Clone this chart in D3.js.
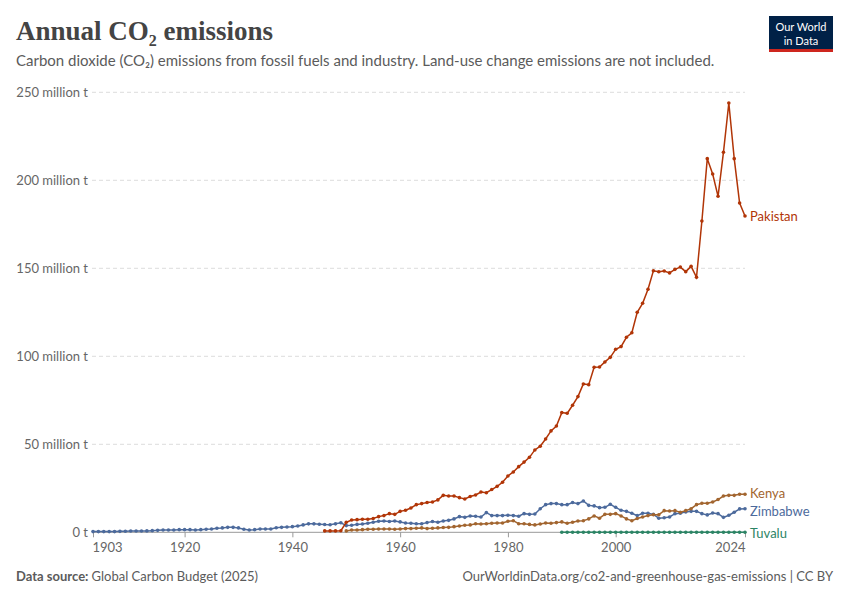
<!DOCTYPE html>
<html>
<head>
<meta charset="utf-8">
<script src="https://cdn.jsdelivr.net/npm/d3@7"></script>
<style>
  body { margin: 0; background: #fff; }
  svg { font-family: Lato, "Noto Sans", sans-serif; }
</style>
</head>
<body>
<div id="chart"></div>
<script>
var width = 850;
var height = 600;

// Data (million tonnes CO2)
var zimbabweStart = 1903;
var zimbabwe = [
  0.4, 0.4, 0.4, 0.4, 0.4, 0.55, 0.6,
  0.75, 0.75, 0.75, 0.8, 0.95, 1.1, 1.3, 1.3, 1.3, 1.5,
  1.5, 1.5, 1.3, 1.5, 1.7, 1.9, 2.3, 2.5, 2.8, 2.8,
  2.5, 1.7, 1.3, 1.5, 1.9, 1.9, 1.9, 2.6, 2.8, 3.0,
  3.2, 3.6, 4.2, 4.8, 4.8, 4.6, 4.4, 4.3, 4.8, 5.4,
  3.8, 4.0, 4.5, 4.7, 5.1, 5.7, 6.3, 6.4, 6.1, 6.4,
  5.9, 5.3, 5.1, 4.9, 4.9, 5.5, 6.1, 5.7, 6.4, 6.8,
  7.6, 8.9, 8.5, 9.3, 9.1, 8.7, 11.2, 9.5, 9.5, 9.5,
  9.7, 9.5, 9.1, 10.6, 10.2, 10.4, 13.4, 15.7, 16.3, 16.3,
  15.7, 15.7, 16.9, 16.3, 17.8, 15.3, 15.0, 14.0, 14.2, 15.9,
  14.2, 12.5, 11.9, 10.8, 9.5, 10.8, 10.8, 10.2, 8.0, 8.3,
  8.7, 10.6, 10.8, 11.6, 11.9, 11.9, 10.6, 9.9, 11.0, 10.6,
  8.5, 9.7, 11.4, 13.3, 13.4
];

var pakistanStart = 1946;
var pakistan = [
  0.8, 0.8, 0.8, 0.9,
  5.7, 7.0, 7.2, 7.4, 7.4, 7.8, 8.9, 9.5, 10.6, 10.2,
  11.9, 12.5, 13.8, 15.7, 16.3, 16.9, 17.2, 18.4, 21.0, 20.6,
  20.6, 19.7, 18.9, 20.3, 21.2, 22.9, 22.5, 24.3, 26.1, 28.4,
  32.0, 34.3, 37.3, 39.9, 42.6, 46.8, 48.9, 53.0, 57.6, 60.4,
  68.0, 67.6, 72.2, 77.1, 84.3, 83.9, 93.8, 93.9, 96.8, 99.4,
  104.0, 105.5, 110.8, 113.4, 125.0, 130.1, 138.1, 148.6, 148.0, 148.5,
  147.4, 149.4, 150.7, 148.1, 151.1, 144.9, 176.9, 212.3, 203.6, 190.9,
  215.9, 243.9, 212.3, 187.1, 179.7
];

var kenyaStart = 1950;
var kenya = [
  0.8, 1.3, 1.3, 1.5, 1.7, 1.7, 1.9, 1.9, 1.9, 1.7,
  1.9, 2.1, 2.1, 2.3, 2.5, 2.1, 2.3, 2.5, 2.7, 2.8,
  3.2, 3.6, 4.0, 4.2, 4.9, 4.7, 4.9, 5.1, 5.3, 5.3,
  6.3, 6.6, 4.9, 4.9, 4.5, 4.2, 4.7, 5.3, 5.1, 5.5,
  5.9, 5.1, 5.7, 6.4, 6.6, 7.6, 9.3, 8.0, 10.2, 10.2,
  10.6, 9.3, 7.6, 6.6, 7.8, 8.7, 9.5, 10.0, 10.0, 12.3,
  12.1, 12.3, 11.4, 12.3, 13.4, 15.7, 16.5, 16.5, 17.2, 18.6,
  20.6, 21.0, 21.0, 21.6, 21.6
];

var tuvaluStart = 1990;
var tuvalu = [
  0.01, 0.01, 0.01, 0.01, 0.01, 0.01, 0.01, 0.01, 0.01, 0.01,
  0.01, 0.01, 0.01, 0.01, 0.01, 0.01, 0.01, 0.01, 0.01, 0.01,
  0.01, 0.01, 0.01, 0.01, 0.01, 0.01, 0.01, 0.01, 0.01, 0.01,
  0.01, 0.01, 0.01, 0.01, 0.01
];

var xTicks = [1903, 1920, 1940, 1960, 1980, 2000, 2024];
var yTicks = [0, 50, 100, 150, 200, 250];

function toPoints(start, values) {
  return values.map(function (v, i) { return { year: start + i, value: v }; });
}

var series = [
  { name: "Pakistan", color: "#B13507", points: toPoints(pakistanStart, pakistan) },
  { name: "Kenya", color: "#A2652F", points: toPoints(kenyaStart, kenya) },
  { name: "Zimbabwe", color: "#4C6A9C", points: toPoints(zimbabweStart, zimbabwe) },
  { name: "Tuvalu", color: "#2C8465", points: toPoints(tuvaluStart, tuvalu) }
];

var xScale = d3.scaleLinear().domain([1903, 2024]).range([93, 745]);
var yScale = d3.scaleLinear().domain([0, 250]).range([532.3, 92.3]);

var svg = d3.select("#chart")
  .append("svg")
  .attr("width", width)
  .attr("height", height);

// Title
var title = svg.append("text")
  .attr("x", 16)
  .attr("y", 40)
  .style("font-family", "'Liberation Serif', 'DejaVu Serif', serif")
  .attr("font-size", "27px")
  .attr("font-weight", "bold")
  .attr("fill", "#444");
title.append("tspan").text("Annual CO");
title.append("tspan").attr("font-size", "16px").attr("dy", 6).text("2");
title.append("tspan").attr("dy", -6).text(" emissions");

svg.append("text")
  .attr("x", 16)
  .attr("y", 66)
  .attr("font-size", "15px")
  .attr("fill", "#5b5b5b")
  .text("Carbon dioxide (CO\u2082) emissions from fossil fuels and industry. Land-use change emissions are not included.");

// Logo
var logo = svg.append("g").attr("transform", "translate(769,16)");
logo.append("rect").attr("width", 64).attr("height", 36).attr("fill", "#002147");
logo.append("rect").attr("y", 33).attr("width", 64).attr("height", 3).attr("fill", "#CE261E");
logo.append("text").attr("x", 32).attr("y", 15).attr("text-anchor", "middle")
  .attr("font-size", "11px").attr("fill", "#fff").text("Our World");
logo.append("text").attr("x", 32).attr("y", 29).attr("text-anchor", "middle")
  .attr("font-size", "11px").attr("fill", "#fff").text("in Data");

// Gridlines and y labels
svg.append("g")
  .selectAll("line")
  .data(yTicks.filter(function (d) { return d > 0; }))
  .enter()
  .append("line")
  .attr("x1", 92)
  .attr("x2", 745)
  .attr("y1", function (d) { return yScale(d); })
  .attr("y2", function (d) { return yScale(d); })
  .attr("stroke", "#dddddd")
  .attr("stroke-dasharray", "4,3");

svg.append("g")
  .selectAll("text")
  .data(yTicks)
  .enter()
  .append("text")
  .attr("x", 88)
  .attr("y", function (d) { return yScale(d); })
  .attr("dy", "0.35em")
  .attr("text-anchor", "end")
  .attr("font-size", "13px")
  .attr("fill", "#666")
  .text(function (d) { return d === 0 ? "0 t" : d + " million t"; });

// X axis
var xAxis = d3.axisBottom(xScale)
  .tickValues(xTicks)
  .tickFormat(d3.format("d"))
  .tickSize(5)
  .tickSizeOuter(0);

var xAxisG = svg.append("g")
  .attr("transform", "translate(0," + yScale(0) + ")")
  .call(xAxis);
xAxisG.select(".domain").attr("stroke", "#999").attr("d", "M92,0H745");
xAxisG.selectAll(".tick line").attr("stroke", "#999");
xAxisG.selectAll(".tick text")
  .style("font-family", "Lato, sans-serif")
  .attr("font-size", "13px")
  .attr("fill", "#666")
  .attr("dy", "0.9em")
  .attr("text-anchor", function (d) {
    if (d === 1903) return "start";
    if (d === 2024) return "end";
    return "middle";
  })
  .attr("dx", function (d) { return d === 1903 ? -1 : 0; });

// Lines
var line = d3.line()
  .x(function (d) { return xScale(d.year); })
  .y(function (d) { return yScale(d.value); });

var seriesG = svg.append("g")
  .selectAll("g")
  .data(series.slice().reverse())
  .enter()
  .append("g");

seriesG.append("path")
  .attr("d", function (d) { return line(d.points); })
  .attr("fill", "none")
  .attr("stroke", function (d) { return d.color; })
  .attr("stroke-width", 1.5);

seriesG.selectAll("circle")
  .data(function (d) { return d.points.map(function (p) { return { p: p, color: d.color }; }); })
  .enter()
  .append("circle")
  .attr("cx", function (d) { return xScale(d.p.year); })
  .attr("cy", function (d) { return yScale(d.p.value); })
  .attr("r", 1.8)
  .attr("fill", function (d) { return d.color; });

// End labels
var labelY = { Pakistan: 216, Kenya: 493, Zimbabwe: 511, Tuvalu: 533 };
svg.append("g")
  .selectAll("text")
  .data(series)
  .enter()
  .append("text")
  .attr("x", 750)
  .attr("y", function (d) { return labelY[d.name]; })
  .attr("dy", "0.35em")
  .attr("font-size", "13px")
  .attr("fill", function (d) { return d.color; })
  .text(function (d) { return d.name; });

// Footer
var source = svg.append("text")
  .attr("x", 16)
  .attr("y", 581)
  .attr("font-size", "13px")
  .attr("fill", "#5b5b5b");
source.append("tspan").attr("font-weight", "bold").text("Data source: ");
source.append("tspan").text("Global Carbon Budget (2025)");

svg.append("text")
  .attr("x", 833)
  .attr("y", 581)
  .attr("text-anchor", "end")
  .attr("font-size", "13px")
  .attr("fill", "#5b5b5b")
  .text("OurWorldinData.org/co2-and-greenhouse-gas-emissions | CC BY");
</script>
</body>
</html>
